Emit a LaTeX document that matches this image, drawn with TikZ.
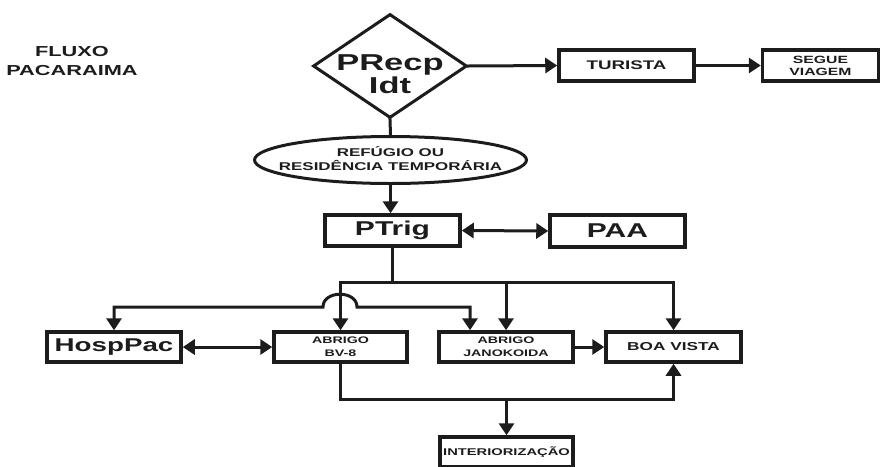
\documentclass[tikz,border=0pt]{standalone}
\usepackage{fontspec}
\newfontfamily\wf[FakeStretch=1.5]{Liberation Sans}
\usetikzlibrary{shapes.geometric,arrows.meta}
\definecolor{ink}{HTML}{1C1C1C}
\begin{document}
\begin{tikzpicture}[x=1pt,y=-1pt,
  fz/.style 2 args={font=\wf\bfseries\fontsize{#1}{#2}\selectfont},
  every node/.style={text=ink},
  box/.style={draw=ink, line width=3.5pt, rectangle, inner sep=0pt, align=center},
  conn/.style={draw=ink, line width=3pt, line cap=rect},
  arr/.style={conn, -{Triangle[length=12pt,width=15pt]}},
  darr/.style={conn, {Triangle[length=12pt,width=15pt]}-{Triangle[length=12pt,width=15pt]}},
  lbl/.style={align=center, inner sep=0pt}
]
\useasboundingbox (0,0) rectangle (890,466);
\begin{scope}
\clip (0,0) rectangle (890,466);
% nodes
\node[lbl, fz={14.5}{18.5}] (title) at (72,61) {FLUXO\\PACARAIMA};
\node[draw=ink, line width=3pt, diamond, minimum width=154pt, minimum height=104pt, inner sep=0pt] (prec) at (390,66) {};
\node[lbl, fz={23}{21}] (preclbl) at (390,74) {PRecp\\Idt};
\node[box, minimum width=135pt, minimum height=31pt, fz={12.5}{15}] (tur) at (626.5,65.5) {TURISTA};
\node[box, minimum width=116pt, minimum height=31pt, fz={10.5}{12}] (seg) at (820.5,65.5) {SEGUE\\VIAGEM};
\node[draw=ink, line width=3pt, ellipse, minimum width=272pt, minimum height=47pt, inner sep=0pt] (ell) at (390.5,160) {};
\node[lbl, fz={11.3}{14}] (elllbl) at (390.5,159) {REFÚGIO OU\\RESIDÊNCIA TEMPORÁRIA};
\node[box, minimum width=135pt, minimum height=31pt, fz={20}{22}] (ptrig) at (392.5,230.5) {PTrig};
\node[box, minimum width=135pt, minimum height=32pt, fz={20}{22}] (paa) at (617.5,231) {PAA};
\node[box, minimum width=134pt, minimum height=30pt, fz={18.5}{20}] (hosp) at (114,347) {HospPac};
\node[box, minimum width=133pt, minimum height=30pt, fz={9.5}{13}] (bv8) at (340.5,347) {ABRIGO\\BV-8};
\node[box, minimum width=134pt, minimum height=30pt, fz={9.5}{13}] (jano) at (506,347) {ABRIGO\\JANOKOIDA};
\node[box, minimum width=135pt, minimum height=30pt, fz={11.5}{14}] (bvista) at (673.5,347) {BOA VISTA};
\node[box, minimum width=133pt, minimum height=30pt, fz={9.8}{12}] (inter) at (506.5,452) {INTERIORIZAÇÃO};
% helper coordinates
\coordinate (bus) at (0,282);
\coordinate (lane) at (0,307);
\coordinate (low) at (0,399);
\coordinate (hopL) at (323,307);
\coordinate (hopR) at (357,307);
\coordinate (janoIn) at (470,307);
% connectors
\draw[arr] (prec.east) -- (tur.west);
\draw[arr] (tur.east) -- (seg.west);
\draw[conn] (prec.south) -- (ell.north);
\draw[arr] (ell.south) -- (ell.south |- ptrig.north);
\draw[darr] (ptrig.east) -- (paa.west);
\draw[conn] (ptrig.south) -- (ptrig.south |- bus);
\draw[darr] (bv8.north) -- (bv8.north |- bus) -- (bvista.north |- bus) -- (bvista.north);
\draw[arr] (jano.north |- bus) -- (jano.north);
\draw[darr] (hosp.north) -- (hosp.north |- lane) -- (hopL) .. controls (323,290) and (357,290) .. (hopR) -- (janoIn) -- (janoIn |- jano.north);
\draw[darr] (hosp.east) -- (bv8.west);
\draw[arr] (jano.east) -- (bvista.west);
\draw[arr] (bv8.south) -- (bv8.south |- low) -- (bvista.south |- low) -- (bvista.south);
\draw[arr] (inter.north |- low) -- (inter.north);
\end{scope}
\end{tikzpicture}
\end{document}
